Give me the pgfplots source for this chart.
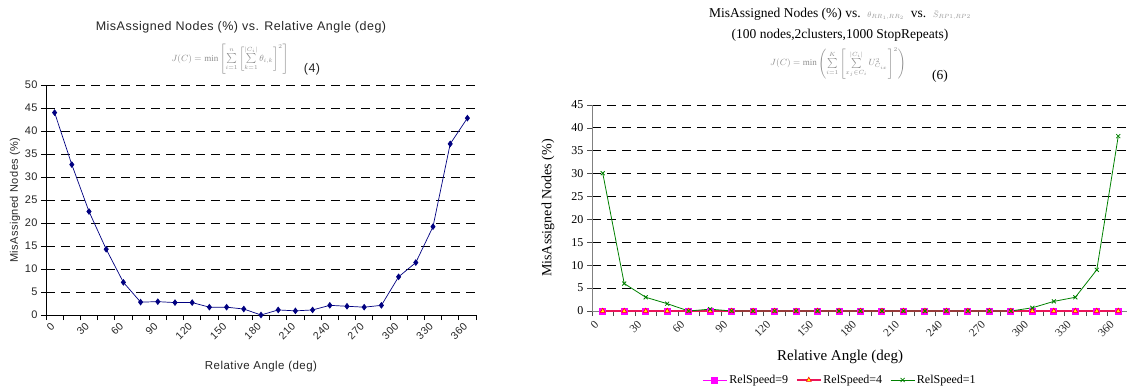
\documentclass[border=0pt]{standalone}
\usepackage{pgfplots}
\pgfplotsset{compat=1.18}
\usepackage{fontspec}
\setmainfont{Liberation Serif}
\newfontfamily\arial[LetterSpace=4]{Liberation Sans}
\definecolor{navyc}{RGB}{0,0,128}
\definecolor{greenc}{RGB}{0,128,0}
\definecolor{magc}{RGB}{255,0,255}
\definecolor{yel}{RGB}{255,255,0}
\definecolor{crim}{RGB}{235,20,90}
\begin{document}
\begin{tikzpicture}
\path[use as bounding box] (0pt,0pt) rectangle (1127pt,-387pt);
% ---------- left chart ----------
\node[font=\arial\fontsize{12.5}{14}\selectfont, text=black!85] at (241pt,-27pt) {MisAssigned Nodes (\%) vs. Relative Angle (deg)};
\node[text=black!45, font=\fontsize{9}{10}\selectfont] at (230pt,-59pt) {$J(C)=\min\left[\sum\limits_{i=1}^{n}\left[\sum\limits_{k=1}^{|C_i|}\theta_{i,k}\right]^{2}\right]$};
\node[font=\arial\fontsize{12.5}{14}\selectfont, text=black!85] at (312pt,-69pt) {(4)};
\begin{axis}[
  at={(46pt,-315pt)}, anchor=south west, scale only axis,
  width=430pt, height=230pt,
  xmin=0, xmax=25, ymin=0, ymax=50, clip=false,
  axis x line*=bottom, axis y line*=left,
  axis line style={black, line width=0.8pt},
  tick align=outside, major tick length=5pt,
  tick style={black, line width=0.7pt},
  xtick={0,...,25},
  xticklabels={0,,30,,60,,90,,120,,150,,180,,210,,240,,270,,300,,330,,360,,},
  ytick={0,5,...,50},
  ymajorgrids, major grid style={black, line width=0.8pt, dash pattern=on 9pt off 6pt},
  /pgf/number format/assume math mode=true,
  yticklabel style={font=\arial\fontsize{11}{12}\selectfont, text=black!85},
  xticklabel style={font=\arial\fontsize{10.5}{12}\selectfont, text=black!85, rotate=45, anchor=east, xshift=5pt, yshift=-8pt},
  ylabel={MisAssigned Nodes (\%)},
  ylabel style={font=\arial\fontsize{11}{12}\selectfont, text=black!85, at={(axis description cs:-0.072,0.5)}, anchor=center, rotate=0},
  xlabel={Relative Angle (deg)},
  xlabel style={font=\arial\fontsize{11.5}{12}\selectfont, text=black!85, at={(axis description cs:0.5,-0.225)}, anchor=center},
]
\addplot[navyc, line width=0.7pt, mark=diamond*, mark size=2.8pt, mark options={fill=navyc}] coordinates {
(0.5,44.0)(1.5,32.7)(2.5,22.5)(3.5,14.3)(4.5,7.1)(5.5,2.8)(6.5,2.9)(7.5,2.7)(8.5,2.7)(9.5,1.7)(10.5,1.7)(11.5,1.3)(12.5,0.0)(13.5,1.1)(14.5,0.9)(15.5,1.1)(16.5,2.1)(17.5,1.9)(18.5,1.7)(19.5,2.1)(20.5,8.3)(21.5,11.4)(22.5,19.2)(23.5,37.2)(24.5,42.8)};
\end{axis}
% ---------- right chart ----------
\node[font=\fontsize{13.5}{15}\selectfont] at (840pt,-14pt) {MisAssigned Nodes (\%) vs.\ \ {\color{black!40}\fontsize{8}{9}\selectfont$\theta_{RR_1,RR_2}$}\ \ vs.\ \ {\color{black!40}\fontsize{8}{9}\selectfont$\bar{S}_{RP1,RP2}$}};
\node[font=\fontsize{13.5}{15}\selectfont] at (840pt,-35pt) {(100 nodes,2clusters,1000 StopRepeats)};
\node[text=black!45, font=\fontsize{9}{10}\selectfont] at (838pt,-63pt) {$J(C)=\min\left(\sum\limits_{i=1}^{K}\left[\sum\limits_{x_j\in C_i}^{|C_i|}U^{2}_{C_{ix}}\right]^{2}\right)$};
\node[font=\fontsize{13.5}{15}\selectfont] at (940pt,-76pt) {(6)};
\begin{axis}[
  at={(592pt,-311pt)}, anchor=south west, scale only axis,
  width=537pt, height=206pt,
  xmin=0, xmax=25, ymin=0, ymax=45, clip=false,
  axis x line*=bottom, axis y line*=left,
  axis line style={black!50, line width=1pt},
  tick align=outside, major tick length=5pt,
  tick style={black!70, line width=0.7pt},
  xtick={0,...,25},
  xticklabels={0,,30,,60,,90,,120,,150,,180,,210,,240,,270,,300,,330,,360,,},
  ytick={0,5,...,45},
  ymajorgrids, major grid style={black, line width=0.8pt, dash pattern=on 9pt off 6pt},
  /pgf/number format/assume math mode=true,
  yticklabel style={font=\fontsize{12}{13}\selectfont},
  xticklabel style={font=\fontsize{11.5}{12}\selectfont, text=black!85, rotate=45, anchor=east, xshift=2pt, yshift=-8pt},
  ylabel={MisAssigned Nodes (\%)},
  ylabel style={font=\fontsize{14}{15}\selectfont, at={(axis description cs:-0.082,0.5)}, anchor=center},
  xlabel={Relative Angle (deg)},
  xlabel style={font=\fontsize{15}{16}\selectfont, at={(axis description cs:0.462,-0.223)}, anchor=center},
  legend style={at={(axis description cs:0.462,-0.335)}, anchor=center, draw=none, fill=none,
     font=\fontsize{12}{13}\selectfont, legend columns=3,
     /tikz/every even column/.append style={column sep=6pt}},
  legend image code/.code={\draw[#1] (0pt,0pt) -- (24pt,0pt); \draw[#1] plot coordinates {(12pt,0pt)};},
]
\addplot[magc, line width=1pt, mark=square*, mark size=3pt, mark options={fill=magc, solid}] coordinates {
(0.5,0)(1.5,0)(2.5,0)(3.5,0)(4.5,0)(5.5,0)(6.5,0)(7.5,0)(8.5,0)(9.5,0)(10.5,0)(11.5,0)(12.5,0)(13.5,0)(14.5,0)(15.5,0)(16.5,0)(17.5,0)(18.5,0)(19.5,0)(20.5,0)(21.5,0)(22.5,0)(23.5,0)(24.5,0)};
\addlegendentry{RelSpeed=9}
\addplot[crim, line width=1.2pt, mark=triangle*, mark size=2.8pt, mark options={fill=yel, draw=red, solid, line width=0.6pt}] coordinates {
(0.5,0)(1.5,0)(2.5,0)(3.5,0)(4.5,0)(5.5,0)(6.5,0)(7.5,0)(8.5,0)(9.5,0)(10.5,0)(11.5,0)(12.5,0)(13.5,0)(14.5,0)(15.5,0)(16.5,0)(17.5,0)(18.5,0)(19.5,0)(20.5,0)(21.5,0)(22.5,0)(23.5,0)(24.5,0)};
\addlegendentry{RelSpeed=4}
\addplot[greenc, line width=0.8pt, mark=x, mark size=2.8pt, mark options={solid}] coordinates {
(0.5,30.1)(1.5,6.0)(2.5,3.0)(3.5,1.6)(4.5,0)(5.5,0.4)(6.5,0)(7.5,0)(8.5,0)(9.5,0)(10.5,0)(11.5,0)(12.5,0)(13.5,0)(14.5,0)(15.5,0)(16.5,0)(17.5,0)(18.5,0)(19.5,0)(20.5,0.7)(21.5,2.1)(22.5,3.0)(23.5,9.0)(24.5,38.2)};
\addlegendentry{RelSpeed=1}
\end{axis}
\end{tikzpicture}
\end{document}
